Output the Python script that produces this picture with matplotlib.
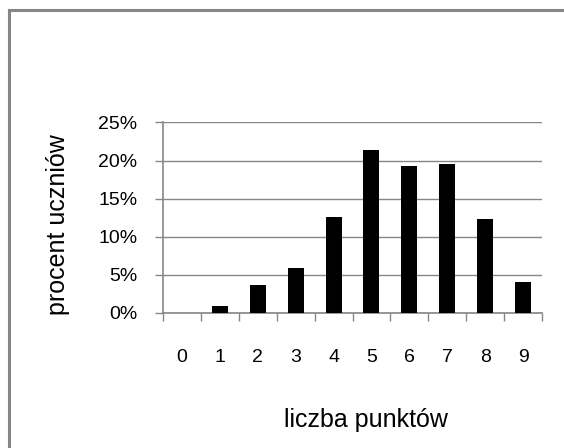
#bar chart - rozklad punktow
import numpy as np
import matplotlib.pyplot as plt
from matplotlib.lines import Line2D
from matplotlib.ticker import PercentFormatter

points = ['0', '1', '2', '3', '4', '5', '6', '7', '8', '9']
percent = [0.0, 0.88, 3.63, 5.87, 12.57, 21.37, 19.27, 19.53, 12.30, 4.03]
yticks = [0, 5, 10, 15, 20, 25]

plt.rcParams['font.family'] = ['Liberation Sans', 'DejaVu Sans']
grey = '#868686'

fig = plt.figure(figsize=(5.64, 4.48), dpi=100)
ax = fig.add_axes([163/564, 1-312.67/448, 379/564, 190.33/448])

x = np.arange(len(points))
ax.bar(x, percent, width=0.42, color='black', zorder=3)

ax.set_xlim(-0.5, len(points)-0.5)
ax.set_ylim(0, 25.02)
ax.set_yticks(yticks)
ax.yaxis.set_major_formatter(PercentFormatter(decimals=0))
ax.set_xticks(x)
ax.set_xticklabels(points)
ax.set_xticks(np.arange(-0.5, len(points)), minor=True)

ax.yaxis.grid(True, color=grey, linewidth=1.0, zorder=0)
ax.set_axisbelow(True)
for s in ['top', 'right']:
    ax.spines[s].set_visible(False)
for s in ['left', 'bottom']:
    ax.spines[s].set_color(grey)
    ax.spines[s].set_linewidth(1.2)

ax.tick_params(axis='y', length=5.5, color=grey, width=1.0, pad=13, labelsize=14)
ax.tick_params(axis='x', which='major', length=0, pad=26, labelsize=14)
ax.tick_params(axis='x', which='minor', length=5.8, color=grey, width=1.0)

fig.text(58/564, 1-225/448, 'procent uczniów', rotation=90, ha='center', va='center', fontsize=18)
fig.text(366/564, 1-420/448, 'liczba punktów', ha='center', va='center', fontsize=18)

# ramka (tylko gora i lewa strona widoczna)
fig.add_artist(Line2D([8.5/564, 1.0], [1-10.5/448, 1-10.5/448], color=grey, linewidth=2.2))
fig.add_artist(Line2D([8.5/564, 8.5/564], [0.0, 1-10.5/448], color=grey, linewidth=2.2))

plt.savefig('out.png', dpi=100)
